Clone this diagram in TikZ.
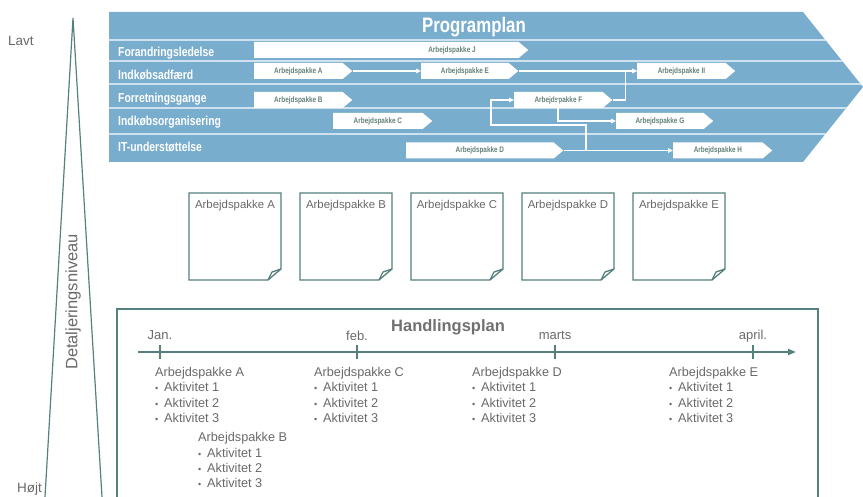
\documentclass[tikz,border=0pt]{standalone}
\usepackage{fontspec}
\setmainfont{Liberation Sans}
\newfontfamily\narrowsans[FakeStretch=0.8]{Liberation Sans}
\usetikzlibrary{shapes.symbols,arrows.meta,calc}

\definecolor{planblue}{RGB}{121,173,206}
\definecolor{lanesep}{RGB}{205,225,238}
\definecolor{wptext}{RGB}{100,128,122}
\definecolor{teal}{RGB}{84,128,125}
\definecolor{txtgray}{RGB}{105,105,105}
\definecolor{titlegray}{RGB}{112,112,112}

\newcommand\actline[1]{\makebox[9pt][l]{\fontsize{9}{9}\selectfont •}#1}

\begin{document}
\begin{tikzpicture}[x=1pt,y=-1pt,
  lanelabel/.style={anchor=base west,inner sep=0,text=white,
    font=\narrowsans\bfseries\fontsize{13}{13}\selectfont},
  wp/.style={shape=signal,signal to=east,signal from=nowhere,
    signal pointer angle=80,fill=white,draw=none,minimum height=16pt,
    inner sep=0,anchor=west,text=wptext,
    font=\narrowsans\bfseries\fontsize{8}{8}\selectfont},
  link/.style={draw=white,line width=1.2pt,-{Triangle[length=5pt,width=4.5pt]}},
  sep/.style={draw=lanesep,line width=1.8pt},
  docbody/.style={rectangle,minimum width=92pt,minimum height=87pt,
    inner sep=0,outer sep=0,anchor=north west},
  docline/.style={draw=teal,line width=1.3pt,fill=white,line join=miter},
  doctext/.style={text=txtgray,inner sep=0,
    font=\fontsize{11.4}{11.4}\selectfont},
  axis/.style={draw=teal,line width=1.8pt},
  month/.style={anchor=base,inner sep=0,text=txtgray,
    font=\fontsize{13}{13}\selectfont},
  actlist/.style={anchor=north west,inner sep=0,align=left,text=txtgray,
    font=\fontsize{12.7}{15.3}\selectfont},
  sidetext/.style={inner sep=0,text=txtgray,font=\fontsize{13.5}{13.5}\selectfont}
]
\useasboundingbox (0,0) rectangle (863,497);

% ---------- programme plan chevron ----------
\fill[planblue] (109,12) -- (803,12) -- (863,87) -- (803,162) -- (109,162) -- cycle;
\begin{scope}
  \clip (109,12) -- (803,12) -- (863,87) -- (803,162) -- (109,162) -- cycle;
  \foreach \y in {40,61,84,108,134} \draw[sep] (109,\y) -- (870,\y);
\end{scope}
\node[anchor=base,inner sep=0,text=white,
  font=\narrowsans\bfseries\fontsize{21}{21}\selectfont] (pp) at (474,33) {Programplan};

\node[lanelabel] (lane1) at (118,56.5) {Forandringsledelse};
\node[lanelabel] (lane2) at (118,80)   {Indkøbsadfærd};
\node[lanelabel] (lane3) at (118,103)  {Forretningsgange};
\node[lanelabel] (lane4) at (118,125.7){Indkøbsorganisering};
\node[lanelabel] (lane5) at (118,152)  {IT-understøttelse};

% work packages in the lanes
\node[wp,minimum width=274pt] (J)  at (254,50)  {};
\node[inner sep=0,text=wptext,font=\narrowsans\bfseries\fontsize{8}{8}\selectfont]
  (Jlabel) at (452,50) {Arbejdspakke J};
\node[wp,minimum width=98pt]  (A)  at (254,71)  {Arbejdspakke A};
\node[wp,minimum width=97pt]  (E)  at (421,71)  {Arbejdspakke E};
\node[wp,minimum width=98pt]  (II) at (637,71)  {Arbejdspakke II};
\node[wp,minimum width=98pt]  (B)  at (254,100) {Arbejdspakke B};
\node[wp,minimum width=98pt]  (F)  at (514,100) {Arbejdspakke F};
\node[wp,minimum width=99pt]  (C)  at (333,121) {Arbejdspakke C};
\node[wp,minimum width=97pt]  (G)  at (616,121) {Arbejdspakke G};
\node[wp,minimum width=157pt] (D)  at (406,150.5) {Arbejdspakke D};
\node[wp,minimum width=99pt]  (H)  at (673,150.5) {Arbejdspakke H};

% dependencies
\coordinate (dsplit) at (586,150.5);
\coordinate (loop) at (491,125);
\draw[link] (A.east) -- (E.west);
\draw[link] (E.east) -- (II.west);
\draw[link] (F.east) -- ++(13,0) |- (II.west);
\draw[link] ([xshift=44pt]F.west) |- (G.west);
\draw[link] (D.east) -- (H.west);
\draw[link] (dsplit) |- (loop) |- (F.west);

% ---------- level of detail ----------
\coordinate (apex) at (73,18);
\coordinate (baseL) at (45,497);
\coordinate (baseR) at (102,497);
\draw[teal,line width=1.2pt] (baseL) -- (apex) -- (baseR);
\node[sidetext,anchor=west] (low) at (8,41) {Lavt};
\node[sidetext,anchor=west] (high) at (17,489) {Højt};
\node[rotate=90,inner sep=0,text=txtgray,font=\fontsize{16.5}{16.5}\selectfont]
  (level) at (73,302) {Detaljeringsniveau};

% ---------- work package documents ----------
\foreach \n/\x in {A/189,B/300,C/411,D/522,E/633} {
  \node[docbody] (doc\n) at (\x,193) {};
  \draw[docline] (doc\n.north west) -- (doc\n.north east)
    -- ($(doc\n.south east)+(0,-11)$) -- ($(doc\n.south east)+(-13,0)$)
    -- (doc\n.south west) -- cycle;
  \draw[docline,fill=none] ($(doc\n.south east)+(0,-11)$)
    -- ($(doc\n.south east)+(-9,-8)$) -- ($(doc\n.south east)+(-13,0)$);
  \node[doctext] (doc\n-title) at ($(doc\n.north)+(0,12.5)$) {Arbejdspakke \n};
}

% ---------- action plan ----------
\draw[teal,line width=1.4pt] (117,497) -- (117,309) -- (818,309) -- (818,497);
\node[inner sep=0,text=titlegray,font=\bfseries\fontsize{16.5}{16.5}\selectfont]
  (hp) at (448,327) {Handlingsplan};

\coordinate (t0) at (138,352);
\coordinate (t1) at (796,352);
\draw[axis,-{Triangle[length=8pt,width=6pt]}] (t0) -- (t1);
\foreach \x/\lab/\nm/\b in {160/Jan./jan/339.3, 357/feb./feb/340.7,
                            555/marts/mar/340, 753/april./apr/340} {
  \draw[teal,line width=1.3pt] (\x,345) -- (\x,359);
  \node[month] (m\nm) at (\x,\b) {\lab};
}

\node[actlist] (listA) at (155,367) {Arbejdspakke A\\\actline{Aktivitet 1}\\\actline{Aktivitet 2}\\\actline{Aktivitet 3}};
\node[actlist] (listB) at (198,432.3) {Arbejdspakke B\\\actline{Aktivitet 1}\\\actline{Aktivitet 2}\\\actline{Aktivitet 3}};
\node[actlist] (listC) at (314,367) {Arbejdspakke C\\\actline{Aktivitet 1}\\\actline{Aktivitet 2}\\\actline{Aktivitet 3}};
\node[actlist] (listD) at (472,367) {Arbejdspakke D\\\actline{Aktivitet 1}\\\actline{Aktivitet 2}\\\actline{Aktivitet 3}};
\node[actlist] (listE) at (669,367) {Arbejdspakke E\\\actline{Aktivitet 1}\\\actline{Aktivitet 2}\\\actline{Aktivitet 3}};
\end{tikzpicture}
\end{document}
